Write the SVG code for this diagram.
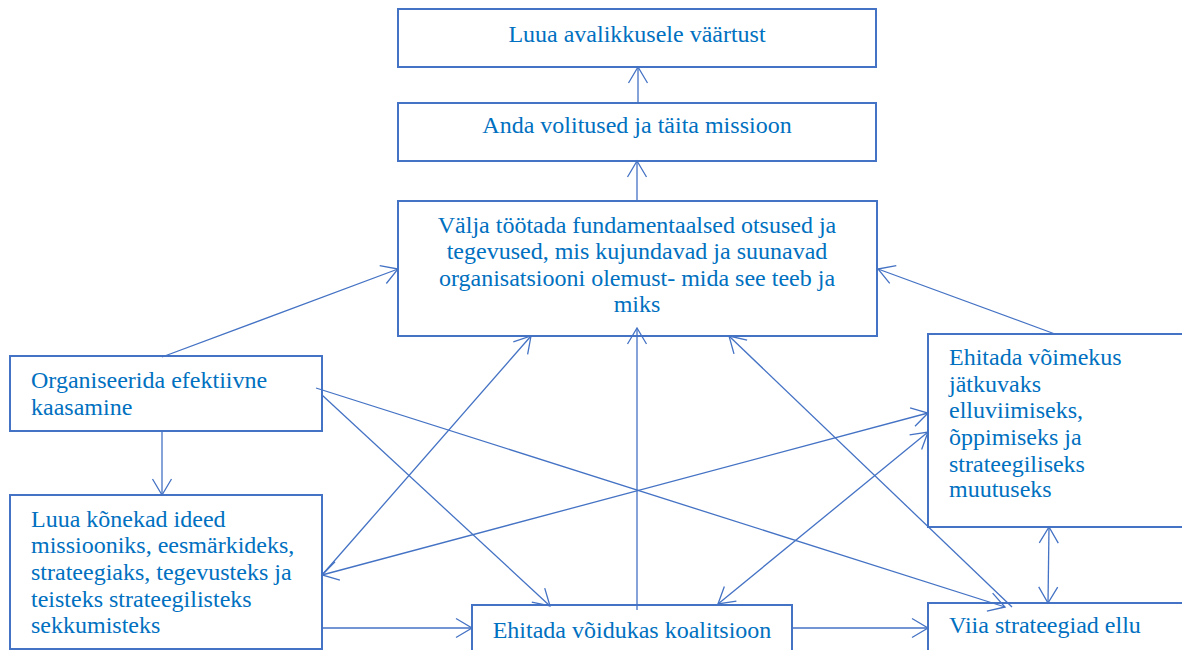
<svg xmlns="http://www.w3.org/2000/svg" width="1182" height="650" viewBox="0 0 1182 650">
<style>
.box{fill:#fff;stroke:#4472C4;stroke-width:2}
.t{font-family:"Liberation Serif","Times New Roman",serif;font-size:24px;fill:#0070C0}
.c{text-anchor:middle}
.ln{stroke:#4472C4;stroke-width:1.3;fill:none}
</style>
<defs>
<marker id="ah" markerUnits="userSpaceOnUse" viewBox="-18 -11 20 22" refX="0" refY="0" markerWidth="20" markerHeight="22" orient="auto-start-reverse">
<path d="M-16 -9.5 L0 0 L-16 9.5" fill="none" stroke="#4472C4" stroke-width="1.3"/>
</marker>
</defs>
<rect width="1182" height="650" fill="#fff"/>
<g id="n1"><rect class="box" x="398" y="9" width="478" height="58"/><text class="t c" x="637" y="42">Luua avalikkusele väärtust</text></g>
<g id="n2"><rect class="box" x="398" y="103" width="478" height="58"/><text class="t c" x="637" y="133">Anda volitused ja täita missioon</text></g>
<g id="n3"><rect class="box" x="398" y="201" width="479" height="135"/>
<text class="t c" x="637" y="233">Välja töötada fundamentaalsed otsused ja</text>
<text class="t c" x="637" y="259">tegevused, mis kujundavad ja suunavad</text>
<text class="t c" x="637" y="286">organisatsiooni olemust- mida see teeb ja</text>
<text class="t c" x="637" y="312">miks</text></g>
<g id="n4"><rect class="box" x="10" y="356" width="312" height="75"/>
<text class="t" x="31" y="388">Organiseerida efektiivne</text>
<text class="t" x="31" y="415">kaasamine</text></g>
<g id="n5"><rect class="box" x="10" y="495" width="312" height="154"/>
<text class="t" x="31" y="527">Luua kõnekad ideed</text>
<text class="t" x="31" y="553">missiooniks, eesmärkideks,</text>
<text class="t" x="31" y="580">strateegiaks, tegevusteks ja</text>
<text class="t" x="31" y="607">teisteks strateegilisteks</text>
<text class="t" x="31" y="633">sekkumisteks</text></g>
<g id="n6"><rect class="box" x="928" y="334" width="270" height="193"/>
<text class="t" x="949" y="365">Ehitada võimekus</text>
<text class="t" x="949" y="392">jätkuvaks</text>
<text class="t" x="949" y="418">elluviimiseks,</text>
<text class="t" x="949" y="445">õppimiseks ja</text>
<text class="t" x="949" y="472">strateegiliseks</text>
<text class="t" x="949" y="497">muutuseks</text></g>
<g id="n7"><rect class="box" x="472" y="605" width="320" height="60"/>
<text class="t c" x="632" y="638">Ehitada võidukas koalitsioon</text></g>
<g id="n8"><rect class="box" x="928" y="603" width="270" height="60"/>
<text class="t" x="949" y="633">Viia strateegiad ellu</text></g>
<g id="connectors">
<line class="ln" x1="638" y1="103" x2="638" y2="67" marker-end="url(#ah)"/>
<line class="ln" x1="637" y1="200" x2="637" y2="161" marker-end="url(#ah)"/>
<line class="ln" x1="162" y1="357" x2="398" y2="269" marker-end="url(#ah)"/>
<line class="ln" x1="1055" y1="334" x2="878" y2="269" marker-end="url(#ah)"/>
<line class="ln" x1="162" y1="431" x2="162" y2="495" marker-end="url(#ah)"/>
<line class="ln" x1="322" y1="575" x2="531" y2="336" marker-end="url(#ah)"/>
<line class="ln" x1="637" y1="610" x2="637" y2="328" marker-end="url(#ah)"/>
<line class="ln" x1="1012" y1="607" x2="729" y2="336" marker-end="url(#ah)"/>
<line class="ln" x1="322" y1="575" x2="928" y2="413" marker-start="url(#ah)" marker-end="url(#ah)"/>
<line class="ln" x1="718" y1="604" x2="928" y2="432" marker-start="url(#ah)" marker-end="url(#ah)"/>
<line class="ln" x1="316" y1="388" x2="1005" y2="607" marker-end="url(#ah)"/>
<line class="ln" x1="322" y1="395" x2="550" y2="606" marker-end="url(#ah)"/>
<line class="ln" x1="322" y1="628" x2="472" y2="628" marker-end="url(#ah)"/>
<line class="ln" x1="792" y1="628" x2="928" y2="628" marker-end="url(#ah)"/>
<line class="ln" x1="1049" y1="527" x2="1048" y2="603" marker-start="url(#ah)" marker-end="url(#ah)"/>
</g>
</svg>
